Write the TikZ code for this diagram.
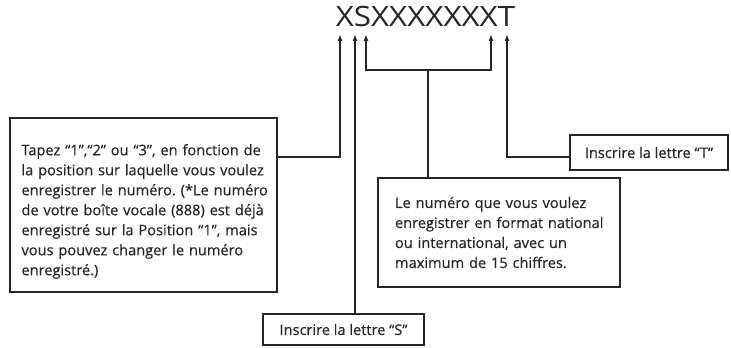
\documentclass[tikz,border=0pt]{standalone}
\usepackage{fontspec}
\setmainfont{Open Sans}
\newfontfamily\boxfont{Open Sans}[FakeBold=0.4]
\usetikzlibrary{arrows.meta}
\definecolor{ink}{HTML}{262626}
\frenchspacing
\newcommand\oneline[1]{\mbox{#1}\\}
\begin{document}
\begin{tikzpicture}[x=1pt,y=1pt,
  box/.style={draw=ink,line width=2.4pt,fill=white,inner sep=0pt,text=ink,
    font=\boxfont\fontsize{14.6}{20}\selectfont},
  conn/.style={draw=ink,line width=1.7pt},
  arr/.style={conn,-{Latex[length=7pt,width=5pt]}}]
\useasboundingbox (0,0) rectangle (731,348);
% code line
\node[text=ink,font=\fontsize{28}{28}\selectfont,inner sep=0pt] (code) at (425.5,331) {\scalebox{1.12}[1]{XSXXXXXXXT}};
\coordinate (a1) at (340,314);
\coordinate (a2) at (355,314);
\coordinate (a3) at (366,314);
\coordinate (a4) at (491,314);
\coordinate (a5) at (507,314);
\coordinate (k1) at (340,191);
\coordinate (k5) at (507,191);
\coordinate (br) at (428,278);
% boxes
\node[box,minimum width=267pt,minimum height=174pt,text width=244pt,align=left] (pos) at (143.5,143)
{\oneline{\rule{0pt}{24pt}Tapez “1”,“2” ou “3”, en fonction de}\oneline{la position sur laquelle vous voulez}\oneline{enregistrer le numéro. (*Le numéro}\oneline{de votre boîte vocale (888) est déjà}\oneline{enregistré sur la Position “1”, mais}\oneline{vous pouvez changer le numéro}\mbox{enregistré.)}};
\node[box,minimum width=242pt,minimum height=109pt,text width=208pt,align=left] (num) at (499,115.5)
{\oneline{Le numéro que vous voulez}\oneline{enregistrer en format national}\oneline{ou international, avec un}\mbox{maximum de 15 chiffres.}};
\node[box,minimum width=158pt,minimum height=35pt] (tl) at (649,195.5) {Inscrire la lettre “T”};
\node[box,minimum width=161pt,minimum height=31pt] (sl) at (343.5,18.5) {Inscrire la lettre “S”};
% connectors
\draw[arr] (pos.east |- k1) -- (k1) -- (a1);
\draw[arr] (sl.north -| a2) -- (a2);
\draw[conn,{Latex[length=7pt,width=5pt]}-{Latex[length=7pt,width=5pt]}] (a3) -- (a3 |- br) -- (a4 |- br) -- (a4);
\draw[conn] (br) -- (br |- num.north);
\draw[arr] (tl.west |- k5) -- (k5) -- (a5);
\end{tikzpicture}
\end{document}
